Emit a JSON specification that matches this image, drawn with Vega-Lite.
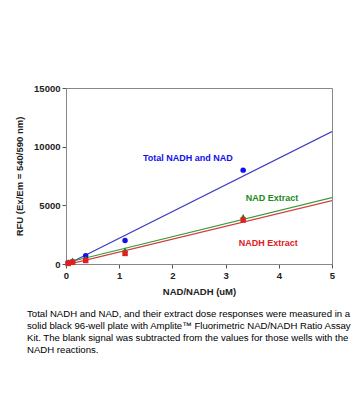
{
  "$schema": "https://vega.github.io/schema/vega-lite/v6.json",
  "autosize": "none",
  "width": 266,
  "height": 176,
  "padding": {"left": 66, "top": 88, "right": 32, "bottom": 155},
  "background": "white",
  "config": {
    "view": {"stroke": "#888888", "strokeWidth": 1},
    "font": "Liberation Sans"
  },
  "datasets": {
    "points": [
      {"conc": 0.041, "rfu": 100, "series": "Total NADH and NAD"},
      {"conc": 0.123, "rfu": 200, "series": "Total NADH and NAD"},
      {"conc": 0.37, "rfu": 700, "series": "Total NADH and NAD"},
      {"conc": 1.11, "rfu": 2000, "series": "Total NADH and NAD"},
      {"conc": 3.33, "rfu": 8000, "series": "Total NADH and NAD"},
      {"conc": 0.041, "rfu": 200, "series": "NAD Extract"},
      {"conc": 0.123, "rfu": 350, "series": "NAD Extract"},
      {"conc": 0.37, "rfu": 500, "series": "NAD Extract"},
      {"conc": 1.11, "rfu": 1200, "series": "NAD Extract"},
      {"conc": 3.33, "rfu": 4050, "series": "NAD Extract"},
      {"conc": 0.041, "rfu": 50, "series": "NADH Extract"},
      {"conc": 0.123, "rfu": 150, "series": "NADH Extract"},
      {"conc": 0.37, "rfu": 300, "series": "NADH Extract"},
      {"conc": 1.11, "rfu": 900, "series": "NADH Extract"},
      {"conc": 3.33, "rfu": 3750, "series": "NADH Extract"}
    ],
    "fits": [
      {"conc": 0.12, "rfu": 190, "series": "Total NADH and NAD"},
      {"conc": 5, "rfu": 11280, "series": "Total NADH and NAD"},
      {"conc": 0.04, "rfu": 150, "series": "NAD Extract"},
      {"conc": 5, "rfu": 5650, "series": "NAD Extract"},
      {"conc": 0.1, "rfu": 30, "series": "NADH Extract"},
      {"conc": 5, "rfu": 5400, "series": "NADH Extract"}
    ],
    "labels": [
      {"conc": 2.29, "rfu": 9030, "series": "Total NADH and NAD", "label": "Total NADH and NAD"},
      {"conc": 3.87, "rfu": 5620, "series": "NAD Extract", "label": "NAD Extract"},
      {"conc": 3.80, "rfu": 1790, "series": "NADH Extract", "label": "NADH Extract"}
    ]
  },
  "title": {
    "text": [
      "Total NADH and NAD, and their extract dose responses were measured in a",
      "solid black 96-well plate with Amplite™ Fluorimetric NAD/NADH Ratio Assay",
      "Kit. The blank signal was subtracted from the values for those wells with the",
      "NADH reactions."
    ],
    "orient": "bottom",
    "anchor": "start",
    "frame": "group",
    "fontSize": 9.6,
    "fontWeight": "normal",
    "font": "Liberation Sans",
    "color": "#000000",
    "lineHeight": 12,
    "offset": 13,
    "dx": -39
  },
  "layer": [
    {
      "data": {"name": "fits"},
      "mark": {"type": "line", "strokeWidth": 1.2, "clip": true},
      "encoding": {
        "x": {
          "field": "conc", "type": "quantitative",
          "scale": {"domain": [0, 5], "nice": false},
          "axis": {
            "title": "NAD/NADH (uM)",
            "values": [0, 0.5, 1, 1.5, 2, 2.5, 3, 3.5, 4, 4.5, 5],
            "labelExpr": "datum.value % 1 === 0 ? datum.label : ''",
            "tickSize": {"expr": "datum.value % 1 === 0 ? 4 : 2"},
            "grid": false,
            "domainColor": "#888888",
            "tickColor": "#555555",
            "labelFontSize": 9.5,
            "labelFontWeight": "bold",
            "labelColor": "#222222",
            "titleFontSize": 9.5,
            "titleFontWeight": "bold",
            "titleColor": "#222222",
            "titlePadding": 7,
            "labelFlush": false
          }
        },
        "y": {
          "field": "rfu", "type": "quantitative",
          "scale": {"domain": [0, 15000], "nice": false},
          "axis": {
            "title": "RFU (Ex/Em = 540/590 nm)",
            "values": [0, 2500, 5000, 7500, 10000, 12500, 15000],
            "labelExpr": "datum.value % 5000 === 0 ? datum.value : ''",
            "tickSize": {"expr": "datum.value % 5000 === 0 ? 4 : 2"},
            "grid": false,
            "domainColor": "#888888",
            "tickColor": "#555555",
            "labelFontSize": 9.5,
            "labelFontWeight": "bold",
            "labelColor": "#222222",
            "titleFontSize": 9.5,
            "titleFontWeight": "bold",
            "titleColor": "#222222",
            "titlePadding": 9,
            "labelFlush": false
          }
        },
        "detail": {"field": "series"},
        "color": {
          "field": "series", "type": "nominal",
          "scale": {"domain": ["Total NADH and NAD", "NAD Extract", "NADH Extract"], "range": ["#3a3ac0", "#3a9a3a", "#d04040"]},
          "legend": null
        }
      }
    },
    {
      "data": {"name": "points"},
      "mark": {"type": "point", "filled": true, "opacity": 1, "size": 30},
      "encoding": {
        "x": {"field": "conc", "type": "quantitative"},
        "y": {"field": "rfu", "type": "quantitative"},
        "shape": {
          "field": "series", "type": "nominal",
          "scale": {"domain": ["Total NADH and NAD", "NAD Extract", "NADH Extract"], "range": ["circle", "triangle-up", "square"]},
          "legend": null
        },
        "fill": {
          "field": "series", "type": "nominal",
          "scale": {"domain": ["Total NADH and NAD", "NAD Extract", "NADH Extract"], "range": ["#1010f0", "#1a8a1a", "#e02020"]},
          "legend": null
        }
      }
    },
    {
      "data": {"name": "labels"},
      "mark": {"type": "text", "fontSize": 9, "fontWeight": "bold", "font": "Liberation Sans"},
      "encoding": {
        "x": {"field": "conc", "type": "quantitative"},
        "y": {"field": "rfu", "type": "quantitative"},
        "text": {"field": "label"},
        "fill": {
          "field": "series", "type": "nominal",
          "scale": {"domain": ["Total NADH and NAD", "NAD Extract", "NADH Extract"], "range": ["#2a2ab0", "#2a8a2a", "#d03030"]},
          "legend": null
        }
      }
    }
  ]
}
